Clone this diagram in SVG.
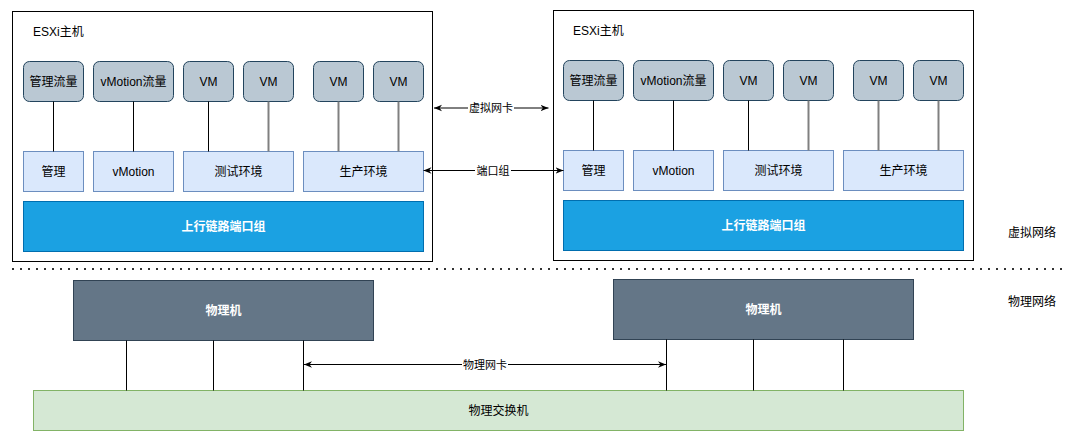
<svg xmlns="http://www.w3.org/2000/svg" width="1078" height="441" viewBox="0 0 1078 441">
<style>
text{font-family:"Liberation Sans","Noto Sans CJK SC",sans-serif;font-size:12px;fill:#000;text-anchor:middle}
.host{fill:#fff;stroke:#000;stroke-width:1}
.vm{fill:#bac8d3;stroke:#23445d;stroke-width:1}
.pg{fill:#dae8fc;stroke:#6c8ebf;stroke-width:1}
.up{fill:#1ba1e2;stroke:#006eaf;stroke-width:1}
.pm{fill:#647687;stroke:#314354;stroke-width:1}
.sw{fill:#d5e8d4;stroke:#82b366;stroke-width:1}
.wt{fill:#fff;font-weight:bold}
.lbl{font-size:11px}
.ln{stroke:#000;stroke-width:1;fill:none}
.gl{stroke:#808080;stroke-width:2;fill:none}
.ar{stroke:#000;stroke-width:1;fill:none;marker-start:url(#ah);marker-end:url(#ah)}
.dot{stroke:#333;stroke-width:2;stroke-dasharray:2 6;fill:none}
.side{text-anchor:middle}
</style>
<defs>
<marker id="ah" viewBox="0 0 10 10" refX="10" refY="5" markerWidth="8" markerHeight="8" markerUnits="userSpaceOnUse" orient="auto-start-reverse">
<path d="M0,1 L10,5 L0,9 L3,5 Z" fill="#000"/>
</marker>
</defs>

<g id="esxi-host-1">
<rect class="host" x="12.5" y="11.5" width="420" height="250"/>
<text x="33" y="36" style="text-anchor:start">ESXi主机</text>
</g>
<g id="h1-mgmt-traffic"><rect class="vm" x="23.5" y="61.5" width="60" height="40" rx="6"/><text x="53.5" y="86">管理流量</text></g>
<g id="h1-vmotion-traffic"><rect class="vm" x="93.5" y="61.5" width="80" height="40" rx="6"/><text x="133.5" y="86">vMotion流量</text></g>
<g id="h1-vm1"><rect class="vm" x="183.5" y="61.5" width="50" height="40" rx="6"/><text x="208.5" y="86">VM</text></g>
<g id="h1-vm2"><rect class="vm" x="243.5" y="61.5" width="50" height="40" rx="6"/><text x="268.5" y="86">VM</text></g>
<g id="h1-vm3"><rect class="vm" x="313.5" y="61.5" width="50" height="40" rx="6"/><text x="338.5" y="86">VM</text></g>
<g id="h1-vm4"><rect class="vm" x="373.5" y="61.5" width="50" height="40" rx="6"/><text x="398.5" y="86">VM</text></g>
<g id="h1-pg-mgmt"><rect class="pg" x="23.5" y="151.5" width="60" height="40"/><text x="53.5" y="176">管理</text></g>
<g id="h1-pg-vmotion"><rect class="pg" x="93.5" y="151.5" width="80" height="40"/><text x="133.5" y="176">vMotion</text></g>
<g id="h1-pg-test"><rect class="pg" x="183.5" y="151.5" width="110" height="40"/><text x="238.5" y="176">测试环境</text></g>
<g id="h1-pg-prod"><rect class="pg" x="303.5" y="151.5" width="120" height="40"/><text x="363.5" y="176">生产环境</text></g>
<g id="h1-uplink"><rect class="up" x="23.5" y="201.5" width="400" height="50"/><text class="wt" x="223.5" y="231">上行链路端口组</text></g>

<g id="esxi-host-2">
<rect class="host" x="553.5" y="10.5" width="420" height="250"/>
<text x="573" y="35" style="text-anchor:start">ESXi主机</text>
</g>
<g id="h2-mgmt-traffic"><rect class="vm" x="563.5" y="60.5" width="60" height="40" rx="6"/><text x="593.5" y="85">管理流量</text></g>
<g id="h2-vmotion-traffic"><rect class="vm" x="633.5" y="60.5" width="80" height="40" rx="6"/><text x="673.5" y="85">vMotion流量</text></g>
<g id="h2-vm1"><rect class="vm" x="723.5" y="60.5" width="50" height="40" rx="6"/><text x="748.5" y="85">VM</text></g>
<g id="h2-vm2"><rect class="vm" x="783.5" y="60.5" width="50" height="40" rx="6"/><text x="808.5" y="85">VM</text></g>
<g id="h2-vm3"><rect class="vm" x="853.5" y="60.5" width="50" height="40" rx="6"/><text x="878.5" y="85">VM</text></g>
<g id="h2-vm4"><rect class="vm" x="913.5" y="60.5" width="50" height="40" rx="6"/><text x="938.5" y="85">VM</text></g>
<g id="h2-pg-mgmt"><rect class="pg" x="563.5" y="150.5" width="60" height="40"/><text x="593.5" y="175">管理</text></g>
<g id="h2-pg-vmotion"><rect class="pg" x="633.5" y="150.5" width="80" height="40"/><text x="673.5" y="175">vMotion</text></g>
<g id="h2-pg-test"><rect class="pg" x="723.5" y="150.5" width="110" height="40"/><text x="778.5" y="175">测试环境</text></g>
<g id="h2-pg-prod"><rect class="pg" x="843.5" y="150.5" width="120" height="40"/><text x="903.5" y="175">生产环境</text></g>
<g id="h2-uplink"><rect class="up" x="563.5" y="200.5" width="400" height="50"/><text class="wt" x="763.5" y="230">上行链路端口组</text></g>

<g id="pm-1"><rect class="pm" x="73.5" y="280.5" width="300" height="60"/><text class="wt" x="223.5" y="315">物理机</text></g>
<g id="pm-2"><rect class="pm" x="613.5" y="279.5" width="300" height="60"/><text class="wt" x="763.5" y="314">物理机</text></g>
<g id="switch"><rect class="sw" x="33.5" y="390.5" width="930" height="40"/><text x="498.5" y="415">物理交换机</text></g>

<g id="zone-labels">
<text x="1032" y="237">虚拟网络</text>
<text x="1032" y="306">物理网络</text>
<line class="dot" x1="12" y1="269" x2="1066" y2="269"/>
</g>

<g id="connectors">
<line class="ln" x1="53.5" y1="101.5" x2="53.5" y2="151.5"/>
<line class="ln" x1="133.5" y1="101.5" x2="133.5" y2="151.5"/>
<line class="ln" x1="208.5" y1="101.5" x2="208.5" y2="151.5"/>
<line class="gl" x1="268.5" y1="101.5" x2="268.5" y2="151.5"/>
<line class="gl" x1="338.5" y1="101.5" x2="338.5" y2="151.5"/>
<line class="gl" x1="398.5" y1="101.5" x2="398.5" y2="151.5"/>

<line class="ln" x1="593.5" y1="100.5" x2="593.5" y2="150.5"/>
<line class="ln" x1="673.5" y1="100.5" x2="673.5" y2="150.5"/>
<line class="ln" x1="748.5" y1="100.5" x2="748.5" y2="150.5"/>
<line class="gl" x1="808.5" y1="100.5" x2="808.5" y2="150.5"/>
<line class="gl" x1="878.5" y1="100.5" x2="878.5" y2="150.5"/>
<line class="gl" x1="938.5" y1="100.5" x2="938.5" y2="150.5"/>

<line class="ln" x1="126.5" y1="340.5" x2="126.5" y2="390.5"/>
<line class="ln" x1="213.5" y1="340.5" x2="213.5" y2="390.5"/>
<line class="ln" x1="303.5" y1="340.5" x2="303.5" y2="390.5"/>
<line class="ln" x1="666.5" y1="339.5" x2="666.5" y2="390.5"/>
<line class="ln" x1="753.5" y1="339.5" x2="753.5" y2="390.5"/>
<line class="ln" x1="843.5" y1="339.5" x2="843.5" y2="390.5"/>

<line class="ar" x1="434" y1="108" x2="548.5" y2="108"/>
<rect x="468" y="101" width="46" height="14" fill="#fff"/>
<text class="lbl" x="491" y="112">虚拟网卡</text>

<line class="ar" x1="423.5" y1="170.5" x2="563.5" y2="170.5"/>
<rect x="475" y="163" width="36" height="14" fill="#fff"/>
<text class="lbl" x="493" y="174.5">端口组</text>

<line class="ar" x1="304" y1="364.5" x2="666" y2="364.5"/>
<rect x="462" y="357" width="46" height="14" fill="#fff"/>
<text class="lbl" x="485" y="368.5">物理网卡</text>
</g>
</svg>
